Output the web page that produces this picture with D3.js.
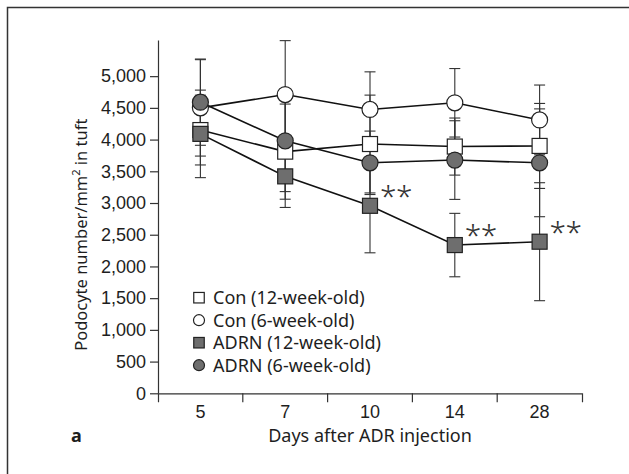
<!DOCTYPE html>
<html>
<head>
<meta charset="utf-8">
<script src="https://cdn.jsdelivr.net/npm/d3@7/dist/d3.min.js"></script>
<style>
  html, body { margin: 0; padding: 0; background: #fff; }
  svg { display: block; font-family: 'Noto Sans', 'Open Sans', sans-serif; }
</style>
</head>
<body>
<div id="holder"></div>
<script>
// days after injection (x categories)
const days = ['5', '7', '10', '14', '28'];
const yTicks = [0, 500, 1000, 1500, 2000, 2500, 3000, 3500, 4000, 4500, 5000];
const yMax = 5570;

// means and SD
const con12Mean = [4150, 3810, 3930, 3890, 3900];
const con12Sd = [550, 750, 771, 450, 670];
const con6Mean = [4500, 4710, 4475, 4580, 4310];
const con6Sd = [760, 850, 593, 540, 550];
const adrn12Mean = [4090, 3420, 2956, 2337, 2390];
const adrn12Sd = [690, 490, 741, 500, 930];
const adrn6Mean = [4590, 3980, 3634, 3677, 3634];
const adrn6Sd = [680, 800, 500, 620, 850];

const seriesNames = ['Con (12-week-old)', 'Con (6-week-old)', 'ADRN (12-week-old)', 'ADRN (6-week-old)'];
// days where ADRN (12-week-old) differs (**)
const sigDays = ['10', '14', '28'];

let cfg = {
  width: 629,
  height: 474,
  left: 158,
  right: 582,
  top: 40,
  bottom: 393.3,
  grayFill: '#6e6e6e',
  ink: '#1e1e1e',
  fontSize: 18
};

let series = [
  {name: seriesNames[0], mean: con12Mean, sd: con12Sd, shape: 'square', fill: '#fff'},
  {name: seriesNames[1], mean: con6Mean, sd: con6Sd, shape: 'circle', fill: '#fff'},
  {name: seriesNames[2], mean: adrn12Mean, sd: adrn12Sd, shape: 'square', fill: cfg.grayFill},
  {name: seriesNames[3], mean: adrn6Mean, sd: adrn6Sd, shape: 'circle', fill: cfg.grayFill}
];

let svg = d3.select('#holder').append('svg')
  .attr('width', cfg.width)
  .attr('height', cfg.height);

// frame of the panel (cut off at right/bottom)
svg.append('path')
  .attr('d', `M7.5,${cfg.height}V7.5H${cfg.width}`)
  .attr('fill', 'none').attr('stroke', '#333').attr('stroke-width', 1.5);

let x = d3.scaleBand().domain(days).range([cfg.left, cfg.right]);
let y = d3.scaleLinear().domain([0, yMax]).range([cfg.bottom, cfg.top]);
let cx = d => x(d) + x.bandwidth() / 2;

// y axis
let gy = svg.append('g')
  .attr('transform', `translate(${cfg.left},0)`)
  .call(d3.axisLeft(y).tickValues(yTicks).tickFormat(d3.format(',')).tickSize(8).tickSizeOuter(0).tickPadding(4));
gy.selectAll('text').attr('font-size', cfg.fontSize).attr('fill', cfg.ink).attr('font-family', null);
gy.selectAll('line, path').attr('stroke', '#333').attr('stroke-width', 1.2);

// x axis, labels centred in bands, ticks on band edges
let gx = svg.append('g')
  .attr('transform', `translate(0,${cfg.bottom})`)
  .call(d3.axisBottom(x).tickSizeInner(0).tickSizeOuter(9).tickPadding(12));
gx.selectAll('text').attr('font-size', cfg.fontSize).attr('fill', cfg.ink).attr('font-family', null);
gx.selectAll('path').attr('stroke', '#333').attr('stroke-width', 1.2);
gx.selectAll('.edge').data(days.slice(1)).enter()
  .append('line').attr('class', 'edge')
  .attr('x1', d => x(d)).attr('x2', d => x(d))
  .attr('y1', 0).attr('y2', 9)
  .attr('stroke', '#333').attr('stroke-width', 1.2);

// axis titles
svg.append('text')
  .attr('transform', `translate(87,${y(2500)}) rotate(-90)`)
  .attr('text-anchor', 'middle')
  .attr('font-size', 16.5).attr('fill', cfg.ink)
  .text('Podocyte number/mm')
  .append('tspan').attr('baseline-shift', 'super').attr('font-size', 11).text('2')
  .select(function () { return this.parentNode; })
  .append('tspan').text(' in tuft');

svg.append('text')
  .attr('x', (cfg.left + cfg.right) / 2).attr('y', 442)
  .attr('text-anchor', 'middle')
  .attr('font-size', cfg.fontSize).attr('fill', cfg.ink)
  .text('Days after ADR injection');

svg.append('text')
  .attr('x', 71).attr('y', 442)
  .attr('font-size', cfg.fontSize).attr('font-weight', 'bold').attr('fill', cfg.ink)
  .text('a');

// error bars
let gErr = svg.append('g').attr('class', 'errors');
series.forEach(s => {
  days.forEach((d, i) => {
    let hi = y(s.mean[i] + s.sd[i]);
    let lo = y(s.mean[i] - s.sd[i]);
    gErr.append('line')
      .attr('x1', cx(d)).attr('x2', cx(d)).attr('y1', hi).attr('y2', lo)
      .attr('stroke', '#333').attr('stroke-width', 1.1);
    [hi, lo].forEach(v => {
      gErr.append('line')
        .attr('x1', cx(d) - 5.5).attr('x2', cx(d) + 5.5).attr('y1', v).attr('y2', v)
        .attr('stroke', '#333').attr('stroke-width', 1.1);
    });
  });
});

// connecting lines
let line = d3.line().x((v, i) => cx(days[i])).y(v => y(v));
svg.append('g').selectAll('path').data(series).enter()
  .append('path')
  .attr('d', s => line(s.mean))
  .attr('fill', 'none').attr('stroke', '#111').attr('stroke-width', 1.6);

function drawMarker (g, shape, px, py, size, fill) {
  if (shape === 'circle') {
    g.append('circle').attr('cx', px).attr('cy', py).attr('r', size / 2)
      .attr('fill', fill).attr('stroke', '#222').attr('stroke-width', 1.2);
  } else {
    g.append('rect').attr('x', px - size / 2).attr('y', py - size / 2)
      .attr('width', size).attr('height', size)
      .attr('fill', fill).attr('stroke', '#222').attr('stroke-width', 1.2);
  }
}

// markers
let gMark = svg.append('g').attr('class', 'markers');
series.forEach(s => {
  days.forEach((d, i) => {
    drawMarker(gMark, s.shape, cx(d), y(s.mean[i]), s.shape === 'circle' ? 16 : 15, s.fill);
  });
});

// significance marks
svg.append('g').selectAll('text').data(sigDays).enter()
  .append('text')
  .attr('x', d => cx(d) + 10)
  .attr('y', d => y(adrn12Mean[days.indexOf(d)]) + 1)
  .attr('font-size', 30).attr('font-weight', 300).attr('letter-spacing', -0.5).attr('fill', '#333')
  .text('**');

// legend
let gLeg = svg.append('g').attr('class', 'legend');
series.forEach((s, i) => {
  let ly = 297.7 + i * 22.5;
  drawMarker(gLeg, s.shape, 199, ly, s.shape === 'circle' ? 11 : 10.5, s.fill);
  gLeg.append('text')
    .attr('x', 213).attr('y', ly).attr('dy', '0.35em')
    .attr('font-size', cfg.fontSize).attr('fill', cfg.ink)
    .text(s.name);
});
</script>
</body>
</html>
